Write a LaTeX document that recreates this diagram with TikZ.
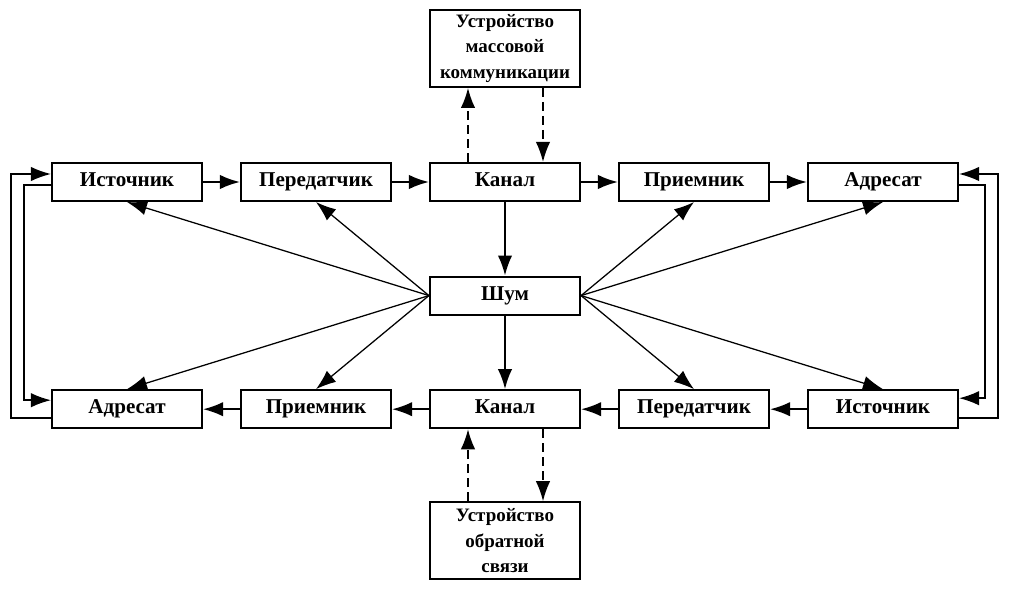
\documentclass[tikz,border=0pt]{standalone}
\usepackage{fontspec}
\setmainfont{Liberation Serif}
\usetikzlibrary{arrows.meta}
\usetikzlibrary{positioning}

\begin{document}
\begin{tikzpicture}[%
    >={Latex[length=0.5cm, width=0.36cm]}, % big filled heads
    node distance=2.84cm and 4.725cm,       % rows and columns of boxes
    ]
% -------------------------------------------------
% Box and line styles
\tikzset{
  base/.style={draw, line width=1.5pt, on grid, align=center,
    font=\bfseries\fontsize{15}{18.5}\selectfont,
    minimum width=3.75cm, minimum height=0.95cm, inner sep=0pt},
  blk/.style={base, text height=0.72em, text depth=0.06em},
  dev/.style={base, minimum height=1.925cm,
    font=\bfseries\fontsize{13.5}{18}\selectfont},
  flow/.style={->, draw, line width=1.4pt},
  noise/.style={->, draw, line width=0.9pt},
  link/.style={->, draw, line width=1.1pt, dash pattern=on 0.22cm off 0.13cm},
  loop/.style={->, draw, line width=1.1pt}
  }
\useasboundingbox (-3.175,4.55) rectangle (22.2,-10.325);
% -------------------------------------------------
% Upper chain
\node [blk] (src1) {Источник};
\node [blk, right=of src1] (tx1) {Передатчик};
\node [blk, right=of tx1] (ch1) {Канал};
\node [blk, right=of ch1] (rx1) {Приемник};
\node [blk, right=of rx1] (dst1) {Адресат};

% Noise in the middle
\node [blk, below=of ch1] (shum) {Шум};

% Lower chain, running back
\node [blk, below=of shum] (ch2) {Канал};
\node [blk, left=of ch2] (rx2) {Приемник};
\node [blk, left=of rx2] (dst2) {Адресат};
\node [blk, right=of ch2] (tx2) {Передатчик};
\node [blk, right=of tx2] (src2) {Источник};

% Devices on the channels
\node [dev, above=3.34cm of ch1] (mass) {Устройство\\массовой\\коммуникации};
\node [dev, below=3.29cm of ch2] (fb) {Устройство\\обратной\\связи};

% -------------------------------------------------
% Flow along the chains
\draw [flow] (src1) -- (tx1);
\draw [flow] (tx1) -- (ch1);
\draw [flow] (ch1) -- (rx1);
\draw [flow] (rx1) -- (dst1);
\draw [flow] (src2) -- (tx2);
\draw [flow] (tx2) -- (ch2);
\draw [flow] (ch2) -- (rx2);
\draw [flow] (rx2) -- (dst2);
\draw [flow] (ch1) -- (shum);
\draw [flow] (shum) -- (ch2);

% Noise spreading out
\draw [noise] (shum.west) -- (src1.south);
\draw [noise] (shum.west) -- (tx1.south);
\draw [noise] (shum.west) -- (dst2.north);
\draw [noise] (shum.west) -- (rx2.north);
\draw [noise] (shum.east) -- (rx1.south);
\draw [noise] (shum.east) -- (dst1.south);
\draw [noise] (shum.east) -- (tx2.north);
\draw [noise] (shum.east) -- (src2.north);

% Dashed links to the devices
\draw [link] ([xshift=-0.925cm] ch1.north) -- ([xshift=-0.925cm] mass.south);
\draw [link] ([xshift=0.95cm] mass.south) -- ([xshift=0.95cm] ch1.north);
\draw [link] ([xshift=-0.925cm] fb.north) -- ([xshift=-0.925cm] ch2.south);
\draw [link] ([xshift=0.95cm] ch2.south) -- ([xshift=0.95cm] fb.north);

% Side loops
\draw [loop] ([yshift=-0.075cm] src1.west) -- ++(-0.675cm,0)
  |- ([yshift=0.225cm] dst2.west);
\draw [loop] ([yshift=-0.225cm] dst2.west) -- ++(-1cm,0)
  |- ([yshift=0.2cm] src1.west);
\draw [loop] ([yshift=-0.075cm] dst1.east) -- ++(0.65cm,0)
  |- ([yshift=0.275cm] src2.east);
\draw [loop] ([yshift=-0.225cm] src2.east) -- ++(0.975cm,0)
  |- ([yshift=0.2cm] dst1.east);
\end{tikzpicture}
\end{document}
